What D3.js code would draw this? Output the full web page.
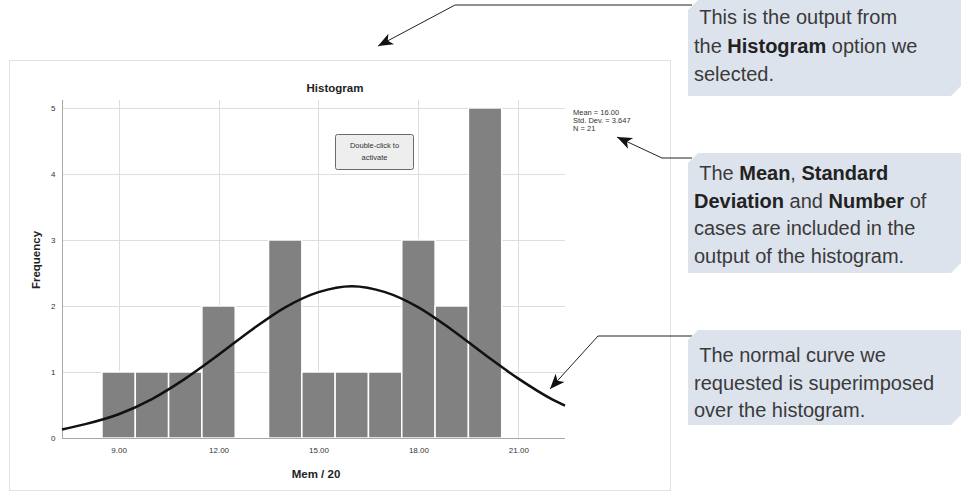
<!DOCTYPE html>
<html>
<head>
<meta charset="utf-8">
<script src="https://cdn.jsdelivr.net/npm/d3@7"></script>
<style>
  body { margin: 0; background: #fff; }
  #dataViz { width: 961px; height: 493px; }
</style>
</head>
<body>
<div id="dataViz"></div>
<script>
// Histogram data (Mem / 20)
const binCenters = [9, 10, 11, 12, 13, 14, 15, 16, 17, 18, 19, 20];
const frequencies = [1, 1, 1, 2, 0, 3, 1, 1, 1, 3, 2, 5];

// Normal curve
const curveX = [7.3, 8, 9, 10, 11, 12, 13, 14, 15, 16, 17, 18, 19, 20, 21, 22, 22.4];
const curveY = [0.13, 0.21, 0.36, 0.59, 0.9, 1.26, 1.64, 1.98, 2.21, 2.3, 2.21, 1.98, 1.64, 1.26, 0.9, 0.59, 0.49];

const xTicks = [9, 12, 15, 18, 21];
const yTicks = [0, 1, 2, 3, 4, 5];
const statLines = ["Mean = 16.00", "Std. Dev. = 3.647", "N = 21"];

// Callout texts, [text, bold] pieces per line
const callouts = [
  [[[" This is the output from", false]],
   [["the ", false], ["Histogram", true], [" option we", false]],
   [["selected.", false]]],
  [[[" The ", false], ["Mean", true], [", ", false], ["Standard", true]],
   [["Deviation", true], [" and ", false], ["Number", true], [" of", false]],
   [["cases are included in the", false]],
   [["output of the histogram.", false]]],
  [[[" The normal curve we", false]],
   [["requested is superimposed", false]],
   [["over the histogram.", false]]]
];

const colours = {
  bar: "#818181",
  grid: "#dddddd",
  axis: "#a8a8a8",
  text: "#333333",
  box: "#dde3ed",
  frame: "#e2e2e2"
};

const width = 961, height = 493;
const plot = { left: 62, right: 565, top: 100, bottom: 438 };

const svg = d3.select("#dataViz").append("svg")
  .attr("width", width)
  .attr("height", height)
  .attr("viewBox", [0, 0, width, height])
  .style("font-family", "'Liberation Sans', Arial, sans-serif");

// Outer frame of the output
svg.append("rect")
  .attr("x", 9.5).attr("y", 60.5)
  .attr("width", 661).attr("height", 430)
  .attr("fill", "#fff")
  .attr("stroke", colours.frame);

// Scales
const xScale = d3.scaleLinear().domain([7.3, 22.4]).range([plot.left, plot.right]);
const yScale = d3.scaleLinear().domain([0, 5.12]).range([plot.bottom, plot.top]);

// Gridlines
svg.append("g")
  .selectAll("line")
  .data(yTicks.filter(d => d > 0))
  .join("line")
  .attr("x1", plot.left).attr("x2", plot.right)
  .attr("y1", d => yScale(d) + 0.5).attr("y2", d => yScale(d) + 0.5)
  .attr("stroke", colours.grid);

svg.append("g")
  .selectAll("line")
  .data(xTicks)
  .join("line")
  .attr("x1", d => Math.round(xScale(d)) + 0.5).attr("x2", d => Math.round(xScale(d)) + 0.5)
  .attr("y1", plot.top).attr("y2", plot.bottom)
  .attr("stroke", colours.grid);

// Bars
svg.append("g")
  .selectAll("rect")
  .data(binCenters.map((c, i) => ({ c, f: frequencies[i] })).filter(d => d.f > 0))
  .join("rect")
  .attr("x", d => xScale(d.c - 0.5))
  .attr("y", d => yScale(d.f))
  .attr("width", d => xScale(d.c + 0.5) - xScale(d.c - 0.5))
  .attr("height", d => yScale(0) - yScale(d.f))
  .attr("fill", colours.bar)
  .attr("stroke", "#fff")
  .attr("stroke-width", 1.5);

// Axes
const xAxis = d3.axisBottom(xScale).tickValues(xTicks).tickSize(0).tickPadding(9)
  .tickFormat(d3.format(".2f"));
const yAxis = d3.axisLeft(yScale).tickValues(yTicks).tickSize(0).tickPadding(7)
  .tickFormat(d3.format("d"));

const gx = svg.append("g")
  .attr("transform", `translate(0, ${plot.bottom + 0.5})`)
  .call(xAxis);
const gy = svg.append("g")
  .attr("transform", `translate(${plot.left + 0.5}, 0)`)
  .call(yAxis);

[gx, gy].forEach(g => {
  g.select(".domain").attr("stroke", colours.axis);
  g.selectAll("text")
    .style("font-size", "8px")
    .style("font-family", "'Liberation Sans', Arial, sans-serif")
    .attr("fill", colours.text);
});
gx.select(".domain").attr("d", `M${plot.left},0H${plot.right}`);
gy.select(".domain").attr("d", `M0,${plot.top}V${plot.bottom}`);

// Normal curve
const line = d3.line()
  .x((d, i) => xScale(curveX[i]))
  .y(d => yScale(d))
  .curve(d3.curveMonotoneX);

svg.append("path")
  .datum(curveY)
  .attr("fill", "none")
  .attr("stroke", "#111")
  .attr("stroke-width", 2.5)
  .attr("d", line);

// Titles
svg.append("text")
  .attr("x", 335).attr("y", 92)
  .attr("text-anchor", "middle")
  .style("font-size", "11.5px").style("font-weight", "bold")
  .attr("fill", "#222")
  .text("Histogram");

svg.append("text")
  .attr("x", 316).attr("y", 478)
  .attr("text-anchor", "middle")
  .style("font-size", "11.5px").style("font-weight", "bold")
  .attr("fill", "#222")
  .text("Mem / 20");

svg.append("text")
  .attr("transform", "translate(40, 260) rotate(-90)")
  .attr("text-anchor", "middle")
  .style("font-size", "11.5px").style("font-weight", "bold")
  .attr("fill", "#222")
  .text("Frequency");

// Stats legend
svg.append("g")
  .selectAll("text")
  .data(statLines)
  .join("text")
  .attr("x", 573)
  .attr("y", (d, i) => 115 + i * 8)
  .style("font-size", "7.5px")
  .attr("fill", colours.text)
  .text(d => d);

// Double-click box
svg.append("rect")
  .attr("x", 335.5).attr("y", 134.5)
  .attr("width", 78).attr("height", 35)
  .attr("rx", 2)
  .attr("fill", "#eeeeee")
  .attr("stroke", "#6a6a6a");

svg.append("g")
  .selectAll("text")
  .data(["Double-click to", "activate"])
  .join("text")
  .attr("x", 374.5)
  .attr("y", (d, i) => 148 + i * 12)
  .attr("text-anchor", "middle")
  .style("font-size", "7.5px")
  .attr("fill", colours.text)
  .text(d => d);

// Leader lines with arrow heads
svg.append("defs").append("marker")
  .attr("id", "arrow")
  .attr("viewBox", "-16 -7 18 14")
  .attr("refX", 0).attr("refY", 0)
  .attr("markerWidth", 18).attr("markerHeight", 14)
  .attr("markerUnits", "userSpaceOnUse")
  .attr("orient", "auto")
  .append("path")
  .attr("d", "M0,0L-15,-6L-11,0L-15,6Z")
  .attr("fill", "#111");

const leaders = [
  [[692, 5], [455, 5], [378, 46]],
  [[692, 158], [662, 158], [617, 137]],
  [[692, 336], [598, 336], [550, 389]]
];

svg.append("g")
  .selectAll("path")
  .data(leaders)
  .join("path")
  .attr("d", d => d3.line()(d))
  .attr("fill", "none")
  .attr("stroke", "#222")
  .attr("stroke-width", 1)
  .attr("marker-end", "url(#arrow)");

// Callout boxes
const boxes = [
  { y0: 0, y1: 96, base: 24, step: 28.5 },
  { y0: 153, y1: 273, base: 180, step: 27.5 },
  { y0: 330, y1: 425, base: 362, step: 27.5 }
];

boxes.forEach((b, k) => {
  const x0 = 688, x1 = 961, c = 10;
  svg.append("path")
    .attr("d", `M${x0 + c},${b.y0}H${x1}V${b.y1 - c}L${x1 - c},${b.y1}H${x0}V${b.y0 + c}Z`)
    .attr("fill", colours.box);

  const t = svg.append("text")
    .style("font-size", "20px")
    .attr("fill", "#3a3a3a")
    .attr("xml:space", "preserve")
    .style("white-space", "pre");

  callouts[k].forEach((lineParts, i) => {
    lineParts.forEach((p, j) => {
      const span = t.append("tspan").text(p[0]);
      if (j === 0) span.attr("x", 694).attr("y", b.base + i * b.step);
      if (p[1]) span.style("font-weight", "bold").attr("fill", "#222");
    });
  });
});
</script>
</body>
</html>
